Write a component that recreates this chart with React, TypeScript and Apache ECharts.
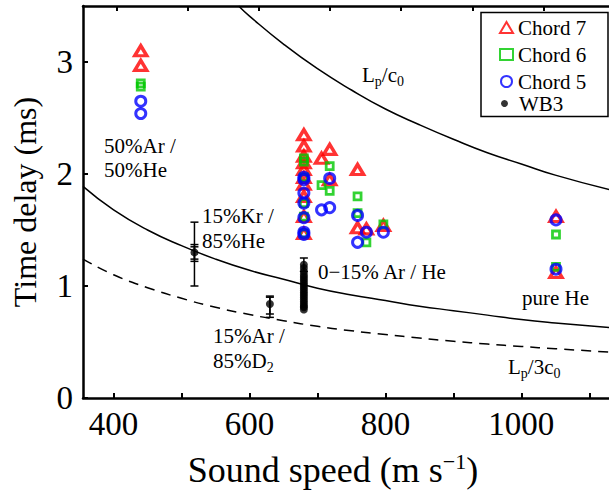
import { useEffect, useRef } from "react";
import * as echarts from "echarts";

const FONT = "'Liberation Serif', 'Times New Roman', serif";

// Axis ticks
const X_TICKS = [400, 500, 600, 700, 800, 900, 1000, 1100];
const X_LABELS = [400, 600, 800, 1000];
const TOP_TICKS = [404, 509, 614, 718, 823, 928, 1033];
const Y_TICKS = [0, 1, 2, 3];

// Chord 7 (red triangles)
const C7_X = [440, 440, 680, 680, 680, 680, 680, 680, 680, 680, 680, 680, 718, 706, 718, 759, 759, 772, 797, 1051, 1051];
const C7_Y = [3.10, 2.97, 2.35, 2.25, 2.16, 2.10, 2.04, 1.97, 1.91, 1.80, 1.62, 1.47, 2.22, 2.14, 1.95, 2.04, 1.52, 1.51, 1.54, 1.62, 1.12];

// Chord 6 (green squares)
const C6_X = [440, 440, 680, 680, 680, 680, 680, 680, 718, 706, 718, 759, 759, 772, 797, 1051, 1051];
const C6_Y = [2.81, 2.78, 2.14, 2.11, 1.97, 1.74, 1.62, 1.47, 2.07, 1.90, 1.85, 1.80, 1.65, 1.39, 1.55, 1.46, 1.17];

// Chord 5 (blue circles)
const C5_X = [440, 440, 680, 680, 680, 680, 680, 680, 680, 718, 718, 706, 759, 759, 772, 797, 1051, 1051];
const C5_Y = [2.65, 2.54, 1.97, 1.95, 1.83, 1.74, 1.61, 1.48, 1.46, 1.96, 1.70, 1.68, 1.63, 1.39, 1.48, 1.48, 1.59, 1.15];

// WB3 (black dots)
const WB3_X = [519, 630, 680, 680, 680, 680, 680, 680, 680, 680, 680, 680, 680, 680, 680, 680, 680, 680, 680, 680, 680, 680];
const WB3_Y = [1.30, 0.84, 1.19, 1.16, 1.13, 1.10, 1.08, 1.06, 1.04, 1.02, 1.00, 0.98, 0.96, 0.94, 0.92, 0.90, 0.88, 0.86, 0.84, 0.82, 0.81, 0.79];

// WB3 error bars
const ERR_X = [519, 519, 519, 630, 630, 680];
const ERR_LOW = [1.00, 1.22, 1.24, 0.72, 0.75, 1.13];
const ERR_HIGH = [1.57, 1.37, 1.35, 0.91, 0.90, 1.25];

// Reference curves
const LPC0_X = [584, 600, 650, 700, 750, 800, 850, 900, 950, 1000, 1050, 1130];
const LPC0_Y = [3.5, 3.41, 3.16, 2.94, 2.75, 2.58, 2.44, 2.31, 2.19, 2.09, 1.99, 1.86];
const MID_X = [355, 400, 450, 500, 550, 600, 650, 700, 750, 800, 850, 900, 950, 1000, 1050, 1130];
const MID_Y = [1.89, 1.68, 1.50, 1.36, 1.24, 1.14, 1.06, 0.98, 0.92, 0.87, 0.82, 0.78, 0.74, 0.70, 0.67, 0.63];
const LP3C0_X = [355, 400, 450, 500, 550, 600, 650, 700, 750, 800, 850, 900, 950, 1000, 1050, 1130];
const LP3C0_Y = [1.24, 1.10, 0.985, 0.89, 0.81, 0.745, 0.69, 0.64, 0.60, 0.567, 0.535, 0.507, 0.482, 0.46, 0.44, 0.41];

const zip = (xs: number[], ys: number[]) => xs.map((x, i) => [x, ys[i]]);

const txt = (x: number, y: number, text: string, rich?: any) => ({
  type: "text",
  x,
  y,
  style: {
    text,
    fill: "#000",
    fontFamily: FONT,
    fontSize: 21,
    textAlign: "left",
    textVerticalAlign: "middle",
    rich,
  },
});

const subRich = {
  a: { fontFamily: FONT, fontSize: 21, color: "#000", lineHeight: 26, verticalAlign: "middle" },
  s: { fontFamily: FONT, fontSize: 14, color: "#000", lineHeight: 26, verticalAlign: "bottom", padding: [6, 0, 0, 0] },
};

export default function App() {
  const ref = useRef<HTMLDivElement>(null);
  useEffect(() => {
    if (!ref.current) return;
    const chart = echarts.init(ref.current, undefined, { renderer: "svg" });
    const axisLine = { show: true, onZero: false, lineStyle: { color: "#000", width: 2.5 } };
    const option: any = {
      animation: false,
      backgroundColor: "#fff",
      textStyle: { fontFamily: FONT },
      grid: { left: 83, top: 6, width: 528, height: 392, containLabel: false },
      xAxis: [
        {
          type: "value",
          min: 355,
          max: 1129,
          position: "bottom",
          axisLine,
          axisTick: { show: true, inside: true, length: 5, lineStyle: { color: "#000", width: 2 }, customValues: X_TICKS },
          axisLabel: {
            customValues: X_LABELS,
            formatter: (v: number) => String(v),
            fontFamily: FONT,
            fontSize: 33,
            color: "#000",
            margin: 9,
          },
          splitLine: { show: false },
          name: "{a|Sound speed (m s}{sup|−1}{a|)}",
          nameLocation: "middle",
          nameGap: 52,
          nameTextStyle: {
            padding: [0, 26, 0, 0],
            rich: {
              a: { fontFamily: FONT, fontSize: 36, color: "#000", lineHeight: 40 },
              sup: { fontFamily: FONT, fontSize: 22, color: "#000", lineHeight: 40, verticalAlign: "top", padding: [0, 0, 14, 0] },
            },
          },
        },
        {
          type: "value",
          min: 355,
          max: 1129,
          position: "top",
          axisLine,
          axisTick: { show: true, inside: true, length: 5, lineStyle: { color: "#000", width: 2 }, customValues: TOP_TICKS },
          axisLabel: { show: false },
          splitLine: { show: false },
        },
      ],
      yAxis: [
        {
          type: "value",
          min: 0,
          max: 3.5,
          position: "left",
          axisLine,
          axisTick: { show: true, inside: true, length: 5, lineStyle: { color: "#000", width: 2 }, customValues: Y_TICKS },
          axisLabel: { customValues: Y_TICKS, fontFamily: FONT, fontSize: 33, color: "#000", margin: 10 },
          splitLine: { show: false },
          name: "Time delay (ms)",
          nameLocation: "middle",
          nameGap: 42,
          nameTextStyle: { fontFamily: FONT, fontSize: 32, color: "#000" },
        },
      ],
      legend: [
        {
          orient: "vertical",
          left: 483,
          top: 14,
          padding: [3, 20, 0, 16],
          itemWidth: 13,
          itemHeight: 11,
          itemGap: 6,
          data: ["Chord 7", "Chord 6", "Chord 5"],
          textStyle: { fontFamily: FONT, fontSize: 21, color: "#000", lineHeight: 20 },
        },
        {
          orient: "vertical",
          left: 501,
          top: 93,
          padding: [0, 0, 0, 0],
          itemWidth: 7,
          itemHeight: 7,
          data: ["WB3"],
          textStyle: { fontFamily: FONT, fontSize: 21, color: "#000", lineHeight: 20, padding: [0, 0, 0, 6] },
        },
      ],
      graphic: [
        {
          type: "rect",
          shape: { x: 481, y: 12.5, width: 127, height: 104 },
          style: { fill: "none", stroke: "#000", lineWidth: 1.5 },
          z: 10,
        },
        txt(104, 146, "50%Ar /"),
        txt(104, 170, "50%He"),
        txt(202, 216, "15%Kr /"),
        txt(202, 241, "85%He"),
        txt(318, 272, "0−15% Ar / He"),
        txt(213, 336, "15%Ar /"),
        txt(213, 361, "{a|85%D}{s|2}", subRich),
        txt(522, 298, "pure He"),
        txt(362, 75, "{a|L}{s|p}{a|/c}{s|0}", subRich),
        txt(508, 367, "{a|L}{s|p}{a|/3c}{s|0}", subRich),
      ],
      series: [
        {
          name: "Lp/c0",
          type: "line",
          data: zip(LPC0_X, LPC0_Y),
          smooth: true,
          showSymbol: false,
          lineStyle: { color: "#000", width: 1.5 },
          silent: true,
          z: 1,
        },
        {
          name: "mid",
          type: "line",
          data: zip(MID_X, MID_Y),
          smooth: true,
          showSymbol: false,
          lineStyle: { color: "#000", width: 1.5 },
          silent: true,
          z: 1,
        },
        {
          name: "Lp/3c0",
          type: "line",
          data: zip(LP3C0_X, LP3C0_Y),
          smooth: true,
          showSymbol: false,
          lineStyle: { color: "#000", width: 1.5, type: [10, 7] },
          silent: true,
          z: 1,
        },
        {
          name: "Chord 7",
          type: "scatter",
          symbol: "triangle",
          symbolSize: [12, 10],
          data: zip(C7_X, C7_Y),
          itemStyle: { color: "rgba(0,0,0,0)", borderColor: "#ff0000", borderWidth: 3.4 },
          z: 3,
        },
        {
          name: "Chord 6",
          type: "scatter",
          symbol: "rect",
          symbolSize: 7,
          data: zip(C6_X, C6_Y),
          itemStyle: { color: "rgba(0,0,0,0)", borderColor: "#00c800", borderWidth: 2.8 },
          z: 4,
        },
        {
          name: "Chord 5",
          type: "scatter",
          symbol: "circle",
          symbolSize: 10,
          data: zip(C5_X, C5_Y),
          itemStyle: { color: "rgba(0,0,0,0)", borderColor: "#0000ff", borderWidth: 3 },
          z: 5,
        },
        {
          name: "WB3",
          type: "scatter",
          symbol: "circle",
          symbolSize: 8,
          data: zip(WB3_X, WB3_Y),
          itemStyle: { color: "#000" },
          z: 6,
        },
        {
          name: "WB3 errors",
          type: "custom",
          data: ERR_X.map((x, i) => [x, ERR_LOW[i], ERR_HIGH[i]]),
          renderItem: (_params: any, api: any) => {
            const x = api.value(0);
            const lo = api.coord([x, api.value(1)]);
            const hi = api.coord([x, api.value(2)]);
            const cap = 4;
            const st = { stroke: "#000", lineWidth: 1.5 };
            return {
              type: "group",
              children: [
                { type: "line", shape: { x1: hi[0], y1: hi[1], x2: lo[0], y2: lo[1] }, style: st },
                { type: "line", shape: { x1: hi[0] - cap, y1: hi[1], x2: hi[0] + cap, y2: hi[1] }, style: st },
                { type: "line", shape: { x1: lo[0] - cap, y1: lo[1], x2: lo[0] + cap, y2: lo[1] }, style: st },
              ],
            };
          },
          silent: true,
          z: 6,
        },
      ],
    };
    chart.setOption(option);
    return () => chart.dispose();
  }, []);
  return <div ref={ref} style={{ position: "fixed", left: 0, top: 0, width: 609, height: 494 }} />;
}
